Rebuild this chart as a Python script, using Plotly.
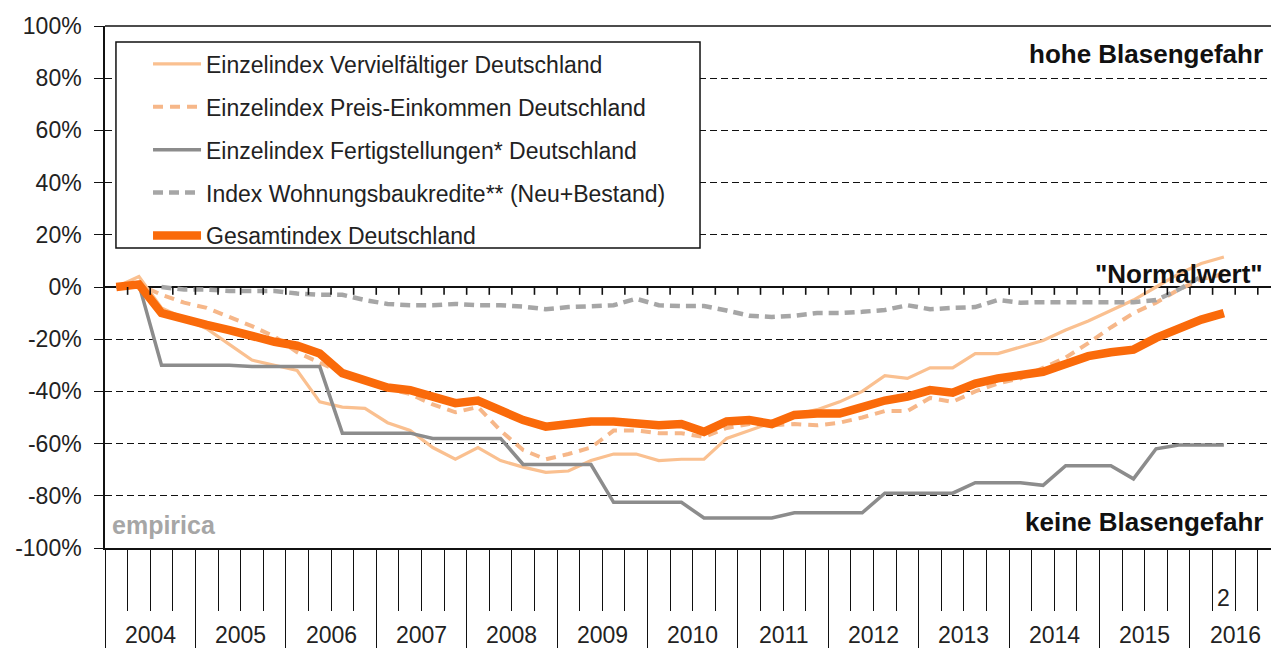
import plotly.graph_objects as go

# ---------------- data (quarterly, 2004 Q1 .. 2016 Q2) ----------------
YEARS = list(range(2004, 2017))
QUARTERS = [(y, q) for y in YEARS for q in (1, 2, 3, 4)][:50]

VERVIELFAELTIGER = [0, 4, -8, -12, -16, -22, -28, -30, -32, -44,
                    -46, -46.5, -52, -55, -61.5, -66, -61.5, -66.5, -69, -71,
                    -70.5, -66.5, -64, -64, -66.5, -66, -66, -58, -55, -52,
                    -49, -47, -44, -40, -34, -35, -31, -31, -25.5, -25.5,
                    -23, -20.5, -16.5, -13, -9, -5, 0, 5, 9, 11.5]
PREIS_EINKOMMEN = [0, 1, -3, -6, -8, -11.5, -15, -19, -25, -29,
                   -33, -36, -39, -41, -45, -48, -46, -55, -62.5, -66,
                   -64, -61.5, -55, -55, -56, -56, -57.5, -54, -52.5, -53,
                   -52.5, -53, -52, -50, -47.5, -47.5, -42.5, -44, -40, -37,
                   -35, -31, -27, -21.5, -15.5, -10, -6, -1, 3, 5]
FERTIGSTELLUNGEN = [0, 1, -30, -30, -30, -30, -30.5, -30.5, -30.5, -30.5,
                    -56, -56, -56, -56, -58, -58, -58, -58, -68, -68,
                    -68, -68, -82.5, -82.5, -82.5, -82.5, -88.5, -88.5, -88.5, -88.5,
                    -86.5, -86.5, -86.5, -86.5, -79, -79, -79, -79, -75, -75,
                    -75, -76, -68.5, -68.5, -68.5, -73.5, -62, -60.5, -60.5, -60.5]
WOHNUNGSBAUKREDITE = [None, None, 0, -1, -1, -1.5, -1.5, -1.5, -2.5, -3,
                      -3, -5, -6.5, -7, -7, -6.5, -7, -7, -7.5, -8.5,
                      -7.7, -7.3, -7, -4.5, -7, -7.3, -7.3, -9, -11, -11.5,
                      -11, -10, -10, -9.5, -8.8, -7, -8.5, -8, -7.7, -5,
                      -6, -5.8, -5.8, -5.8, -5.8, -5.8, -5, -1, 4, None]
GESAMTINDEX = [0, 1, -10, -12.5, -14.5, -16.5, -19, -21, -22.5, -25.5,
               -33, -35.5, -38.5, -39.5, -42, -44.5, -43.5, -47, -51, -53.5,
               -52.5, -51.5, -51.5, -52, -53, -52.5, -55.5, -51.5, -51, -52.5,
               -49, -48.5, -48.5, -46, -43.5, -42, -39.5, -40.5, -37, -35,
               -34, -32.5, -29.5, -26.5, -25, -24, -19.5, -16, -12.5, -10]

SERIES_NAMES = ["Einzelindex Vervielfältiger Deutschland",
                "Einzelindex Preis-Einkommen Deutschland",
                "Einzelindex Fertigstellungen* Deutschland",
                "Index Wohnungsbaukredite** (Neu+Bestand)",
                "Gesamtindex Deutschland"]
Y_TICKS = [-100, -80, -60, -40, -20, 0, 20, 40, 60, 80, 100]
Y_TICK_TEXT = [f"{v}%" for v in Y_TICKS]
LAST_QUARTER_LABEL = "2"

# ---------------- derived positions ----------------
x_vals = [y + (q - 0.5) / 4 for (y, q) in QUARTERS]
year_bounds = YEARS
quarter_minor = [y + k / 4 for y in YEARS for k in (1, 2, 3)]
quarter_all = [y + k / 4 for y in YEARS for k in (1, 2, 3, 4)]
X_RANGE = [2004, 2016.896]
ZERO_TICK_DEPTH = 3  # tick length below the 0 % line, in axis units (~8 px)

REG = "Liberation Sans, Arial, sans-serif"
FS = 23

styles = [
    dict(color="#FAC090", width=3.2),
    dict(color="#F6B789", width=4, dash="10px,7px"),
    dict(color="#8C8C8C", width=3.5),
    dict(color="#A6A6A6", width=4.5, dash="10px,6px"),
    dict(color="#FA6A0A", width=8.5),
]
values = [VERVIELFAELTIGER, PREIS_EINKOMMEN, FERTIGSTELLUNGEN,
          WOHNUNGSBAUKREDITE, GESAMTINDEX]

fig = go.Figure()
for i, (name, vals, st) in enumerate(zip(SERIES_NAMES, values, styles)):
    fig.add_trace(go.Scatter(x=x_vals, y=vals, mode="lines", name=name,
                             line=st, legendgroup=f"g{i}",
                             connectgaps=False, hoverinfo="skip"))

annotations = []
for y in YEARS:
    annotations.append(dict(x=y + 0.5, y=0, xref="x", yref="paper",
                            text=str(y), showarrow=False, yanchor="middle",
                            yshift=-87, font=dict(family=REG, size=FS, color="#222")))
annotations.append(dict(x=x_vals[-1], y=0, xref="x", yref="paper",
                        text=LAST_QUARTER_LABEL, showarrow=False, yanchor="middle",
                        yshift=-50, font=dict(family=REG, size=FS, color="#222")))
bold_font = dict(family=REG, size=26, color="#111", weight="bold")
annotations += [
    dict(x=0.9949, y=0.9464, xref="paper", yref="paper", text="hohe Blasengefahr",
         showarrow=False, xanchor="right", yanchor="middle", font=bold_font),
    dict(x=0.9949, y=0.5249, xref="paper", yref="paper", text="\"Normalwert\"",
         showarrow=False, xanchor="right", yanchor="middle", font=bold_font),
    dict(x=0.9949, y=0.0498, xref="paper", yref="paper", text="keine Blasengefahr",
         showarrow=False, xanchor="right", yanchor="middle", font=bold_font),
    dict(x=0.0043, y=0.044, xref="paper", yref="paper", text="empirica",
         showarrow=False, xanchor="left", yanchor="middle",
         font=dict(family=REG, size=25, color="#A6A6A6", weight="bold")),
]

shapes = [
    # legend box
    dict(type="rect", xref="paper", yref="paper", x0=0.0094, x1=0.5103,
         y0=0.5747, y1=0.9693, fillcolor="white",
         line=dict(color="#111", width=1.5), layer="above"),
    # top frame
    dict(type="line", xref="paper", yref="paper", x0=0, x1=1, y0=1, y1=1,
         line=dict(color="#111", width=1.5), layer="above"),
]
# quarter tick marks hanging from the 0 % axis line
for qb in quarter_all:
    shapes.append(dict(type="line", xref="x", yref="y", x0=qb, x1=qb,
                       y0=0, y1=-ZERO_TICK_DEPTH,
                       line=dict(color="#111", width=1.6), layer="above"))

fig.update_layout(
    width=1271, height=648,
    margin=dict(l=105, r=0, t=26, b=100, autoexpand=False),
    paper_bgcolor="white", plot_bgcolor="white",
    showlegend=True,
    legend=dict(x=0.0369, y=0.9685, xanchor="left", yanchor="top",
                bgcolor="rgba(0,0,0,0)", borderwidth=0,
                font=dict(family=REG, size=FS, color="#222"),
                itemwidth=48, tracegroupgap=10, traceorder="grouped"),
    xaxis=dict(range=X_RANGE, showgrid=False, zeroline=False, automargin=False,
               showline=True, linecolor="#111", linewidth=1.5,
               tickmode="array", tickvals=year_bounds, ticks="outside",
               ticklen=100, tickwidth=1.3, tickcolor="#111",
               showticklabels=False,
               minor=dict(tickmode="array", tickvals=quarter_minor, ticks="outside",
                          ticklen=61, tickwidth=1.3, tickcolor="#111", showgrid=False)),
    yaxis=dict(range=[-100, 100], tickmode="array", tickvals=Y_TICKS,
               ticktext=Y_TICK_TEXT, ticks="outside", ticklen=9, tickwidth=1.3,
               tickcolor="#111", showline=True, linecolor="#111", linewidth=1.5,
               showgrid=True, gridcolor="#111", gridwidth=1.2, griddash="7px,4px",
               zeroline=True, zerolinecolor="#111", zerolinewidth=1.5,
               automargin=False, ticklabelstandoff=8,
               tickfont=dict(family=REG, size=FS, color="#222")),
    annotations=annotations,
    shapes=shapes,
)

fig.write_html("out.html", config={"displayModeBar": False},
               post_script="document.body.style.margin='0';"
                           "document.body.style.overflow='hidden';")
